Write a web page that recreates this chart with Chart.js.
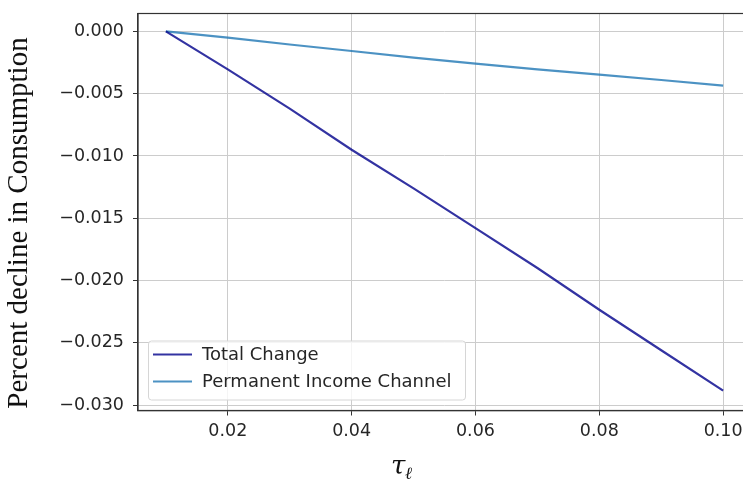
<!DOCTYPE html>
<html>
<head>
<meta charset="utf-8">
<script src="https://cdn.jsdelivr.net/npm/chart.js@4.4.0/dist/chart.umd.min.js"></script>
<style>
  html, body { margin: 0; padding: 0; background: #fff; overflow: hidden; }
  #wrap { width: 760px; height: 482px; overflow: hidden; }
  #chart { display: block; margin-top: -6px; }
</style>
</head>
<body>
<div id="wrap"><canvas id="chart" width="760" height="488"></canvas></div>
<script>
// data
var taxRates = [0.01, 0.02, 0.03, 0.04, 0.05, 0.06, 0.07, 0.08, 0.09, 0.10];
var totalChange = [0, -0.00305, -0.0062, -0.0095, -0.0126, -0.0158, -0.0190, -0.02235, -0.0256, -0.02885];
var permanentIncome = [0, -0.0005, -0.00105, -0.00157, -0.0021, -0.00259, -0.00304, -0.00347, -0.0039, -0.00435];
var seriesLabels = ['Total Change', 'Permanent Income Channel'];
var xTicks = [0.02, 0.04, 0.06, 0.08, 0.10];
var yTicks = [0, -0.005, -0.010, -0.015, -0.020, -0.025, -0.030];

var lineColors = ['rgba(0, 0, 139, 0.8)', 'rgba(31, 119, 180, 0.8)'];
var tickFont = { family: 'DejaVu Sans', size: 17.5 };
var shift = 6; // canvas is pulled up by this much

function toPoints(xs, ys) {
    return xs.map(function(x, i) { return { x: x, y: ys[i] }; });
}

// frame + legend + axis titles
var decorations = {
    id: 'decorations',
    afterDraw: function(chart) {
        var ctx = chart.ctx;
        var a = chart.chartArea;
        ctx.save();
        ctx.strokeStyle = '#333333';
        ctx.lineWidth = 1.2;
        ctx.strokeRect(a.left, a.top, a.right - a.left, a.bottom - a.top);

        // legend box in the lower left of the plot
        var lx = a.left + 10, ly = a.bottom - 70, lw = 317, lh = 59;
        ctx.fillStyle = 'rgba(255,255,255,0.8)';
        ctx.strokeStyle = '#d6d6d6';
        ctx.lineWidth = 1;
        ctx.beginPath();
        ctx.roundRect(lx + 0.5, ly + 0.5, lw, lh, 3);
        ctx.fill();
        ctx.stroke();
        ctx.font = '18px "DejaVu Sans"';
        ctx.textBaseline = 'middle';
        chart.data.datasets.forEach(function(ds, i) {
            var yy = ly + 14 + i * 27;
            ctx.strokeStyle = ds.borderColor;
            ctx.lineWidth = 2.2;
            ctx.beginPath();
            ctx.moveTo(lx + 5, yy);
            ctx.lineTo(lx + 44, yy);
            ctx.stroke();
            ctx.fillStyle = '#262626';
            ctx.fillText(ds.label, lx + 54, yy + 1);
        });

        // y axis title
        ctx.fillStyle = '#111';
        ctx.font = '29px "Liberation Serif"';
        ctx.textAlign = 'center';
        ctx.textBaseline = 'middle';
        ctx.translate(19, 223 + shift);
        ctx.rotate(-Math.PI / 2);
        ctx.fillText('Percent decline in Consumption', 0, 0);
        ctx.restore();

        // x axis title: tau with subscript ell
        ctx.save();
        ctx.fillStyle = '#111';
        ctx.textBaseline = 'alphabetic';
        ctx.font = 'italic 26px "DejaVu Serif"';
        ctx.fillText('τ', 391, 474 + shift);
        ctx.font = 'italic 17px "DejaVu Serif"';
        ctx.fillText('ℓ', 405, 479 + shift);
        ctx.restore();
    }
};

new Chart(document.getElementById('chart'), {
    type: 'line',
    data: {
        datasets: [
            {
                label: seriesLabels[0],
                data: toPoints(taxRates, totalChange),
                borderColor: lineColors[0],
                borderWidth: 2.2,
                pointRadius: 0,
                tension: 0
            },
            {
                label: seriesLabels[1],
                data: toPoints(taxRates, permanentIncome),
                borderColor: lineColors[1],
                borderWidth: 2.2,
                pointRadius: 0,
                tension: 0
            }
        ]
    },
    options: {
        responsive: false,
        animation: false,
        layout: { padding: { top: 6, right: 9, left: 0, bottom: 0 } },
        plugins: {
            legend: { display: false },
            tooltip: { enabled: false }
        },
        scales: {
            x: {
                type: 'linear',
                min: 0.0055,
                max: 0.1045,
                afterBuildTicks: function(scale) {
                    scale.ticks = xTicks.map(function(v) { return { value: v }; });
                },
                afterFit: function(scale) { scale.height = 71.5; },
                ticks: {
                    font: tickFont,
                    color: '#262626',
                    padding: 5,
                    maxRotation: 0,
                    callback: function(v) { return v.toFixed(2); }
                },
                grid: { color: '#cccccc', lineWidth: 1, tickLength: 5, tickColor: '#333333' },
                border: { color: '#333333', width: 1.2 }
            },
            y: {
                min: -0.03044,
                max: 0.00144,
                afterBuildTicks: function(scale) {
                    scale.ticks = yTicks.map(function(v) { return { value: v }; });
                },
                afterFit: function(scale) { scale.width = 138; },
                ticks: {
                    font: tickFont,
                    color: '#262626',
                    padding: 9,
                    callback: function(v) {
                        var s = Math.abs(v).toFixed(3);
                        return v < -1e-9 ? '\u2212' + s : s;
                    }
                },
                grid: { color: '#cccccc', lineWidth: 1, tickLength: 5, tickColor: '#333333' },
                border: { color: '#333333', width: 1.2 }
            }
        }
    },
    plugins: [decorations]
});
</script>
</body>
</html>
